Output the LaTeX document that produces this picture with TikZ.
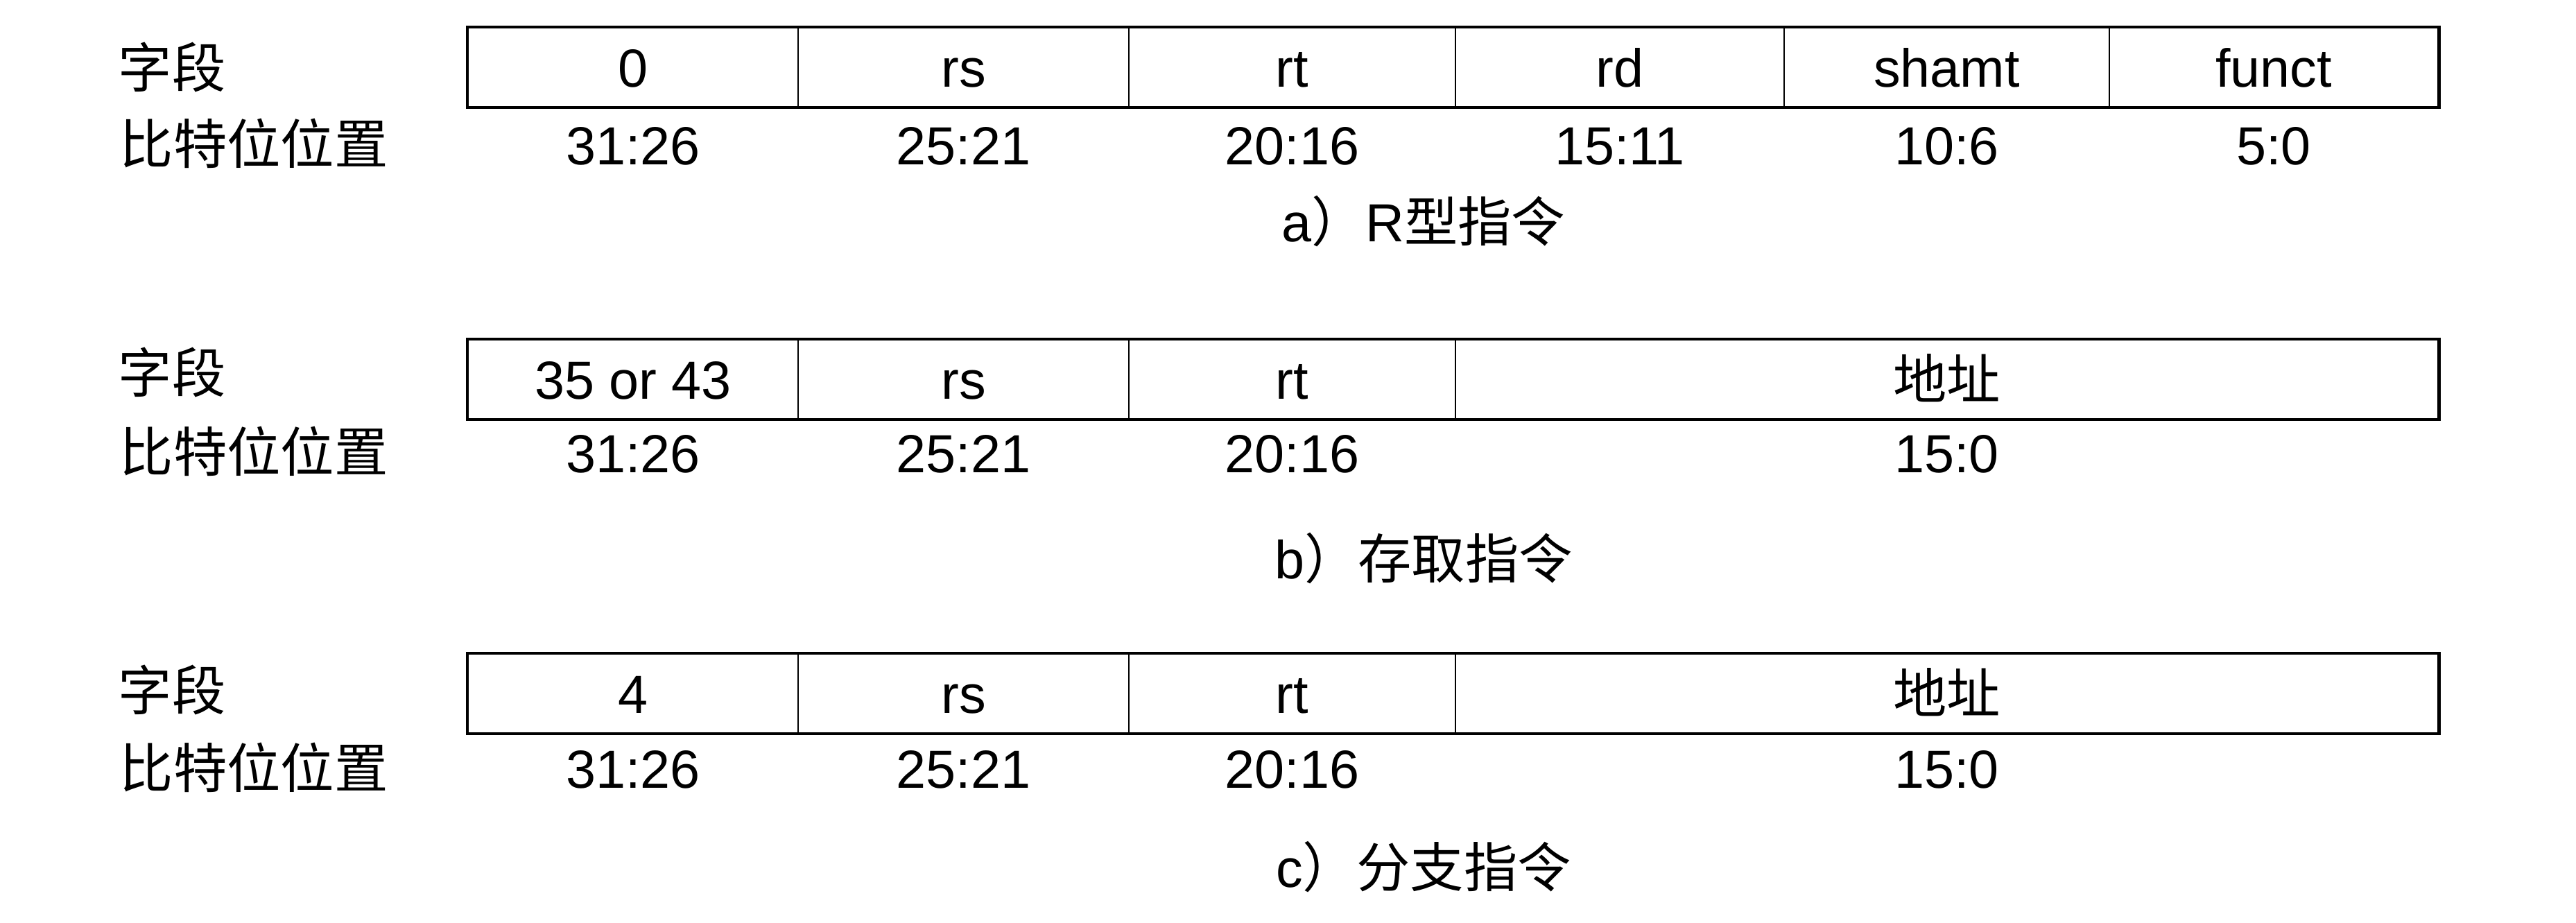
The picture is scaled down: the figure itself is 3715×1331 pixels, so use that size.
\documentclass[tikz,border=0pt]{standalone}
\usepackage{fontspec}
\setmainfont{Liberation Sans}
\newfontfamily\cjk{Noto Sans CJK SC}
\tikzset{
  txt/.style={font=\fontsize{22}{26}\selectfont, inner sep=0pt},
  cell/.style={txt, draw, line width=0.6pt, minimum height=1.14cm, text height=0.56cm, text depth=0pt},
  outerbox/.style={line width=1.3pt},
  lbl/.style={txt, anchor=base west},
  bits/.style={txt, anchor=base},
  captext/.style={txt, anchor=base}
}
\begin{document}
\begin{tikzpicture}[x=0.01cm,y=-0.01cm]
\useasboundingbox (0,0) rectangle (3715,1331);
% ---------- row a ----------
\node[lbl] (af) at (170,127) {\cjk 字段};
\node[lbl] (ab) at (172,237) {\cjk 比特位位置};
\node[cell, minimum width=4.76cm] (a1) at (913,97) {0};
\node[cell, minimum width=4.77cm] (a2) at (1389.5,97) {rs};
\node[cell, minimum width=4.71cm] (a3) at (1863.5,97) {rt};
\node[cell, minimum width=4.74cm] (a4) at (2336,97) {rd};
\node[cell, minimum width=4.69cm] (a5) at (2807.5,97) {shamt};
\node[cell, minimum width=4.74cm] (a6) at (3279,97) {funct};
\draw[outerbox] (a1.north west) rectangle (a6.south east);
\node[bits] (an1) at (913,238) {31:26};
\node[bits] (an2) at (1389.5,238) {25:21};
\node[bits] (an3) at (1863.5,238) {20:16};
\node[bits] (an4) at (2336,238) {15:11};
\node[bits] (an5) at (2807.5,238) {10:6};
\node[bits] (an6) at (3279,238) {5:0};
\node[captext] (acap) at (2053,349) {a{\cjk ）}R{\cjk 型指令}};
% ---------- row b ----------
\node[lbl] (bf) at (170,567) {\cjk 字段};
\node[lbl] (bb) at (172,681) {\cjk 比特位位置};
\node[cell, minimum width=4.76cm] (b1) at (913,547) {35 or 43};
\node[cell, minimum width=4.77cm] (b2) at (1389.5,547) {rs};
\node[cell, minimum width=4.71cm] (b3) at (1863.5,547) {rt};
\node[cell, minimum width=14.17cm] (b4) at (2807.5,547) {\cjk 地址};
\draw[outerbox] (b1.north west) rectangle (b4.south east);
\node[bits] (bn1) at (913,682) {31:26};
\node[bits] (bn2) at (1389.5,682) {25:21};
\node[bits] (bn3) at (1863.5,682) {20:16};
\node[bits] (bn4) at (2807.5,682) {15:0};
\node[captext] (bcap) at (2053,834) {b{\cjk ）存取指令}};
% ---------- row c ----------
\node[lbl] (cf) at (170,1024) {\cjk 字段};
\node[lbl] (cb) at (172,1136) {\cjk 比特位位置};
\node[cell, minimum width=4.76cm] (c1) at (913,1000) {4};
\node[cell, minimum width=4.77cm] (c2) at (1389.5,1000) {rs};
\node[cell, minimum width=4.71cm] (c3) at (1863.5,1000) {rt};
\node[cell, minimum width=14.17cm] (c4) at (2807.5,1000) {\cjk 地址};
\draw[outerbox] (c1.north west) rectangle (c4.south east);
\node[bits] (cn1) at (913,1136) {31:26};
\node[bits] (cn2) at (1389.5,1136) {25:21};
\node[bits] (cn3) at (1863.5,1136) {20:16};
\node[bits] (cn4) at (2807.5,1136) {15:0};
\node[captext] (ccap) at (2053,1279) {c{\cjk ）分支指令}};
\end{tikzpicture}
\end{document}
